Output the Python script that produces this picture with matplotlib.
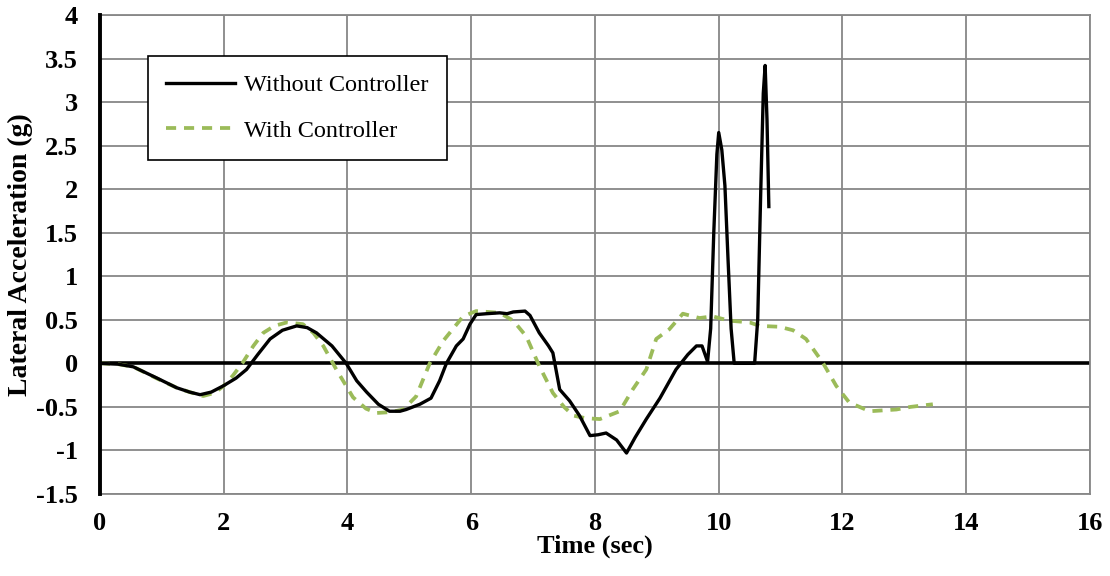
import matplotlib
matplotlib.use('Agg')
import matplotlib.pyplot as plt

# Without Controller
t_without = [0, 0.3, 0.54, 0.91, 1.24, 1.45, 1.62, 1.8, 1.99, 2.2,
             2.37, 2.55, 2.75, 2.95, 3.18, 3.35, 3.5, 3.75, 3.98, 4.15,
             4.31, 4.5, 4.68, 4.85, 4.95, 5.17, 5.35, 5.49, 5.6, 5.76,
             5.87, 5.98, 6.08, 6.25, 6.46, 6.58, 6.68, 6.87, 6.95, 7.1,
             7.25, 7.32, 7.43, 7.59, 7.75, 7.92, 8.05, 8.18, 8.35, 8.51,
             8.65, 8.83, 9.05, 9.31, 9.5, 9.64, 9.73, 9.82, 9.87, 9.92,
             9.97, 10.0, 10.05, 10.1, 10.15, 10.2, 10.25, 10.58, 10.63, 10.68,
             10.72, 10.75, 10.78, 10.81]
a_without = [0, -0.01, -0.04, -0.165, -0.28, -0.33, -0.36, -0.33, -0.26, -0.17,
             -0.07, 0.1, 0.28, 0.38, 0.43, 0.41, 0.35, 0.2, 0.0, -0.2,
             -0.33, -0.47, -0.55, -0.55, -0.53, -0.47, -0.4, -0.2, 0.0, 0.2,
             0.28, 0.45, 0.56, 0.57, 0.58, 0.57, 0.59, 0.6, 0.55, 0.35,
             0.2, 0.12, -0.3, -0.43, -0.6, -0.83, -0.82, -0.8, -0.88, -1.03,
             -0.85, -0.64, -0.4, -0.07, 0.1, 0.2, 0.2, 0.02, 0.4, 1.5,
             2.4, 2.65, 2.45, 2.04, 1.2, 0.4, 0.0, 0.0, 0.5, 2.0,
             3.1, 3.42, 2.8, 1.8]

# With Controller
t_with = [0, 0.3, 0.54, 0.91, 1.24, 1.45, 1.67, 1.85, 2.0, 2.15,
          2.31, 2.48, 2.64, 2.82, 3.02, 3.28, 3.45, 3.61, 3.82, 4.09,
          4.3, 4.47, 4.7, 4.9, 5.11, 5.33, 5.55, 5.87, 6.08, 6.46,
          6.68, 6.89, 7.1, 7.32, 7.5, 7.65, 7.85, 8.08, 8.4, 8.61,
          8.83, 8.99, 9.2, 9.42, 9.69, 9.9, 10.17, 10.5, 10.66, 10.98,
          11.2, 11.41, 11.68, 11.9, 12.11, 12.44, 12.87, 13.1, 13.46]
a_with = [0, -0.01, -0.04, -0.17, -0.28, -0.33, -0.375, -0.34, -0.26, -0.14,
          0.01, 0.2, 0.35, 0.43, 0.47, 0.45, 0.35, 0.2, -0.07, -0.39,
          -0.52, -0.57, -0.56, -0.53, -0.38, 0.0, 0.26, 0.54, 0.6, 0.58,
          0.49, 0.31, -0.03, -0.34, -0.5, -0.6, -0.63, -0.64, -0.55, -0.3,
          -0.07, 0.28, 0.39, 0.57, 0.52, 0.54, 0.49, 0.47, 0.43, 0.42,
          0.38, 0.28, 0.01, -0.26, -0.45, -0.55, -0.53, -0.5, -0.47]

x_ticks = [0, 2, 4, 6, 8, 10, 12, 14, 16]
y_ticks = [-1.5, -1, -0.5, 0, 0.5, 1, 1.5, 2, 2.5, 3, 3.5, 4]
y_labels = ['-1.5', '-1', '-0.5', '0', '0.5', '1', '1.5', '2', '2.5', '3', '3.5', '4']

plt.rcParams['font.family'] = ['Liberation Serif', 'DejaVu Serif']

fig = plt.figure(figsize=(11.1, 5.76), dpi=100)
ax = fig.add_axes([0.09, 0.1424, 0.892, 0.8316])

grid_col = '#878787'
ax.set_xlim(0, 16)
ax.set_ylim(-1.5, 4)
ax.set_xticks(x_ticks)
ax.set_yticks(y_ticks)
ax.set_yticklabels(y_labels)
ax.grid(True, color=grid_col, linewidth=1.3)
ax.set_axisbelow(True)
for side in ['top', 'right', 'bottom']:
    ax.spines[side].set_color(grid_col)
    ax.spines[side].set_linewidth(1.3)
ax.spines['left'].set_color('black')
ax.spines['left'].set_linewidth(2.8)
ax.spines['left'].set_zorder(5)
ax.axhline(0, color='black', linewidth=2.6, zorder=2)

ax.plot(t_without, a_without, color='black', linewidth=2.4,
        label='Without Controller', zorder=4)
ax.plot(t_with, a_with, color='#9BBB59', linewidth=2.7, linestyle=(0, (2.7, 2.1)),
        label='With Controller', zorder=3)

ax.tick_params(axis='both', length=0, labelsize=19)
ax.tick_params(axis='x', pad=13)
ax.tick_params(axis='y', pad=16)
for lab in ax.get_xticklabels() + ax.get_yticklabels():
    lab.set_fontweight('bold')
ax.set_xlabel('Time (sec)', fontsize=19, fontweight='bold', labelpad=0)
ax.set_ylabel('Lateral Acceleration (g)', fontsize=20, fontweight='bold', labelpad=2)

leg = ax.legend(loc='upper left', bbox_to_anchor=(0.0485, 0.914), fancybox=False,
                framealpha=1, edgecolor='black', handlelength=2.85,
                borderpad=0.75, labelspacing=0.95, handletextpad=0.35,
                borderaxespad=0, prop={'size': 17.5})
leg.get_frame().set_linewidth(1.2)

fig.savefig('out.png', dpi=100)
